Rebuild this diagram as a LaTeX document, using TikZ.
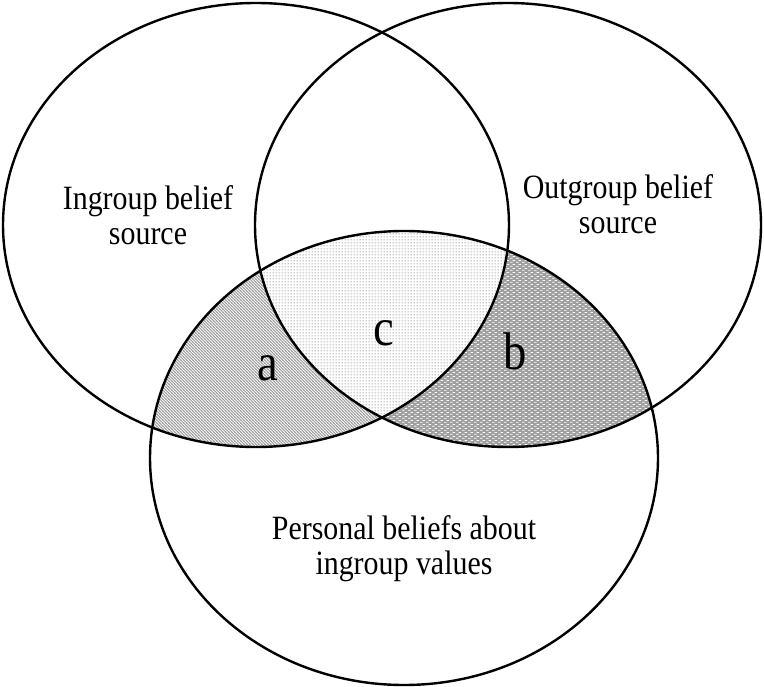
\documentclass[tikz,border=0pt]{standalone}
\usepackage{fontspec}
\setmainfont[FakeStretch=0.88]{Liberation Serif}
\usetikzlibrary{patterns.meta}
\tikzdeclarepattern{name=diagstripes, type=uncolored,
  bounding box={(0pt,0pt) and (3.3pt,3.3pt)}, tile size={(3.3pt,3.3pt)},
  code={\draw[line width=1.2pt] (-1pt,4.3pt) -- (4.3pt,-1pt);
        \draw[line width=1.2pt] (-1pt,1pt) -- (1pt,-1pt);
        \draw[line width=1.2pt] (2.3pt,4.3pt) -- (4.3pt,2.3pt);}}
\tikzdeclarepattern{name=finedots, type=uncolored,
  bounding box={(0pt,0pt) and (2.6pt,2.6pt)}, tile size={(2.6pt,2.6pt)},
  code={\fill (1.3pt,1.3pt) circle (0.8pt);}}
\tikzdeclarepattern{name=whitedashes, type=uncolored,
  bounding box={(0pt,0pt) and (6pt,4pt)}, tile size={(6pt,4pt)},
  code={\fill (0pt,0.5pt) rectangle (3pt,1.5pt);
        \fill (3pt,2.5pt) rectangle (6pt,3.5pt);}}
\tikzset{
  venn/.style={draw=black, line width=2.4pt},
  lbl/.style={font=\fontsize{34}{35}\selectfont, align=center, inner sep=0pt},
  letter/.style={font=\fontsize{53}{56}\selectfont, inner sep=0pt, anchor=base}
}
\begin{document}
\begin{tikzpicture}[x=1pt,y=-1pt]
\useasboundingbox (0,0) rectangle (764,687);
\def\Lpath{(256,225) ellipse [x radius=253, y radius=222]}
\def\Rpath{(508,225) ellipse [x radius=253, y radius=222]}
\def\Bpath{(404,458) ellipse [x radius=254, y radius=227]}
% region a (and under c)
\begin{scope}
  \clip \Lpath; \clip \Bpath;
  \fill[white] \Bpath;
  \fill[pattern={diagstripes}, pattern color=gray!80] \Bpath;
\end{scope}
% region b
\begin{scope}
  \clip \Rpath; \clip \Bpath;
  \fill[gray!75] \Bpath;
  \fill[pattern={whitedashes}, pattern color=white] \Bpath;
\end{scope}
% region c
\begin{scope}
  \clip \Lpath; \clip \Rpath; \clip \Bpath;
  \fill[white] \Bpath;
  \fill[pattern={finedots}, pattern color=gray!75] \Bpath;
\end{scope}
% outlines
\draw[venn] \Lpath;
\draw[venn] \Rpath;
\draw[venn] \Bpath;
% labels
\node[lbl] (ingroup) at (148,215) {Ingroup belief\\source};
\node[lbl] (outgroup) at (618,204) {Outgroup belief\\source};
\node[lbl] (personal) at (404,549) {Personal beliefs about\\ingroup values};
\node[letter] (a) at (268,381) {a};
\node[letter] (c) at (384,346) {c};
\node[letter] (b) at (515,370) {b};
\end{tikzpicture}
\end{document}
